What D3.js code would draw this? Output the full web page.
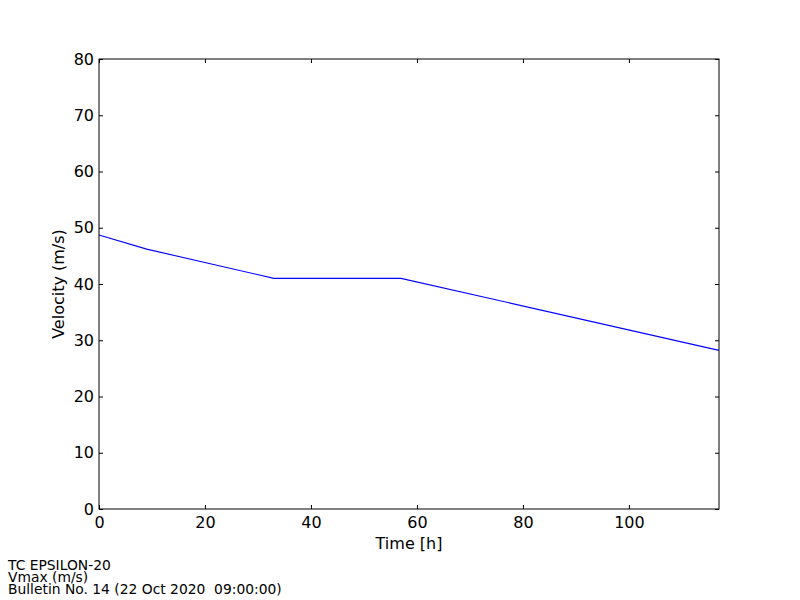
<!DOCTYPE html>
<html><head><meta charset="utf-8">
<script src="https://cdn.jsdelivr.net/npm/d3@7"></script>
<style>body{margin:0;background:#fff}svg{display:block}text{font-family:"DejaVu Sans",sans-serif}</style>
</head><body>
<script>
const timeH = [0, 9, 33, 57, 117];
const vmax = [48.7, 46.2, 41.0, 41.0, 28.2];
const xTicks = [0, 20, 40, 60, 80, 100];
const yTicks = [0, 10, 20, 30, 40, 50, 60, 70, 80];
const footer = ["TC EPSILON-20", "Vmax (m/s)", "Bulletin No. 14 (22 Oct 2020  09:00:00)"];

const W = 800, H = 600;
const L = 99, R = 719, T = 59, B = 509;
const svg = d3.select("body").append("svg").attr("width", W).attr("height", H);
const x = d3.scaleLinear().domain([0, 117]).range([L, R]);
const y = d3.scaleLinear().domain([0, 80]).range([B, T]);

// line
svg.append("path")
  .datum(timeH.map((t, i) => [t, vmax[i]]))
  .attr("fill", "none").attr("stroke", "#0000ff").attr("stroke-width", 1.1)
  .attr("d", d3.line().x(d => x(d[0])).y(d => y(d[1])));

// axes (ticks inside)
const fs = "16px";
const gb = svg.append("g").attr("transform", `translate(0,${B})`)
  .call(d3.axisBottom(x).tickValues(xTicks).tickSizeInner(-4).tickSizeOuter(0).tickPadding(8));
const gt = svg.append("g").attr("transform", `translate(0,${T})`)
  .call(d3.axisTop(x).tickValues(xTicks).tickSizeInner(-4).tickSizeOuter(0).tickFormat(""));
const gl = svg.append("g").attr("transform", `translate(${L},0)`)
  .call(d3.axisLeft(y).tickValues(yTicks).tickSizeInner(-4).tickSizeOuter(0).tickPadding(5));
const gr = svg.append("g").attr("transform", `translate(${R},0)`)
  .call(d3.axisRight(y).tickValues(yTicks).tickSizeInner(-4).tickSizeOuter(0).tickFormat(""));
[gb, gt, gl, gr].forEach(g => {
  g.select(".domain").remove();
  g.selectAll("line").attr("stroke", "#000");
  g.selectAll("text").attr("font-size", fs).attr("fill", "#000").attr("font-family", "DejaVu Sans");
});
gb.selectAll("text").attr("dy", "0.71em");

// frame
svg.append("rect").attr("x", L).attr("y", T).attr("width", R - L).attr("height", B - T)
  .attr("fill", "none").attr("stroke", "#000").attr("stroke-width", 1);

// labels
svg.append("text").attr("x", (L + R) / 2).attr("y", 549).attr("text-anchor", "middle")
  .attr("font-size", fs).text("Time [h]");
svg.append("text").attr("transform", `translate(64,${(T + B) / 2}) rotate(-90)`)
  .attr("text-anchor", "middle").attr("font-size", fs).text("Velocity (m/s)");

// footer
svg.selectAll(".ft").data(footer).enter().append("text")
  .attr("x", 8).attr("y", (d, i) => 570 + i * 12).attr("font-size", "13.85px")
  .style("white-space", "pre").text(d => d);
</script>
</body></html>
